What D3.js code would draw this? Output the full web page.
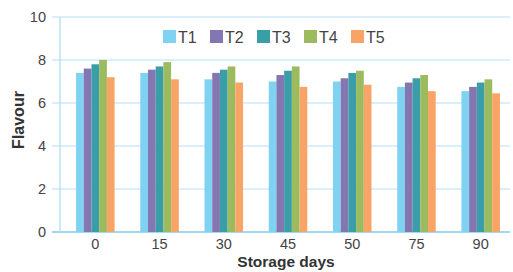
<!DOCTYPE html>
<html>
<head>
<meta charset="utf-8">
<script src="https://cdn.jsdelivr.net/npm/d3@7.9.0/dist/d3.min.js"></script>
<style>
  body { margin: 0; background: #fff; }
  svg { display: block; font-family: 'Liberation Sans', Arial, sans-serif; }
</style>
</head>
<body>
<div id="chart"></div>
<script>
// storage days on the x axis
const days = ['0', '15', '30', '45', '50', '75', '90'];
const series = ['T1', 'T2', 'T3', 'T4', 'T5'];
const colors = ['#7fd2f2', '#8476b0', '#3a9ea8', '#9cba5e', '#f8a466'];

// flavour scores, one array per treatment
const t1 = [7.4, 7.4, 7.1, 7.0, 7.0, 6.75, 6.55];
const t2 = [7.6, 7.55, 7.4, 7.3, 7.15, 6.95, 6.75];
const t3 = [7.8, 7.7, 7.55, 7.5, 7.4, 7.15, 6.95];
const t4 = [8.0, 7.9, 7.7, 7.7, 7.5, 7.3, 7.1];
const t5 = [7.2, 7.1, 6.95, 6.75, 6.85, 6.55, 6.45];
const yTicks = [0, 2, 4, 6, 8, 10];

const values = [t1, t2, t3, t4, t5];
const rows = days.map((d, i) => ({
  day: d,
  vals: series.map((s, j) => ({ key: s, value: values[j][i] })),
}));

const width = 513;
const height = 272;

const svg = d3.select('#chart')
  .append('svg')
  .attr('width', width)
  .attr('height', height);

const x = d3.scaleBand()
  .domain(days)
  .range([60, 516])
  .paddingInner(0.4)
  .paddingOuter(0.25);

const xInner = d3.scaleBand()
  .domain(series)
  .range([0, x.bandwidth()]);

const y = d3.scaleLinear().domain([0, 10]).range([232, 17]);

const color = d3.scaleOrdinal().domain(series).range(colors);

// gridlines
svg.append('g')
  .selectAll('line')
  .data(yTicks)
  .join('line')
  .attr('x1', 52)
  .attr('x2', 510)
  .attr('y1', (d) => y(d))
  .attr('y2', (d) => y(d))
  .attr('stroke', (d) => (d === 0 ? '#7fcdf0' : '#b3e1f6'))
  .attr('stroke-width', (d) => (d === 0 ? 1.6 : 1.2));

// y axis line
svg.append('line')
  .attr('x1', 60).attr('x2', 60)
  .attr('y1', y(10)).attr('y2', y(0))
  .attr('stroke', '#a8dcf5')
  .attr('stroke-width', 1.2);

// y tick labels
svg.append('g')
  .selectAll('text')
  .data(yTicks)
  .join('text')
  .attr('x', 46)
  .attr('y', (d) => y(d))
  .attr('dy', '0.35em')
  .attr('text-anchor', 'end')
  .attr('font-size', 14.5)
  .attr('fill', '#444')
  .text((d) => d);

// bars
svg.append('g')
  .selectAll('g')
  .data(rows)
  .join('g')
  .attr('transform', (d) => `translate(${x(d.day)},0)`)
  .selectAll('rect')
  .data((d) => d.vals)
  .join('rect')
  .attr('x', (d) => xInner(d.key))
  .attr('width', xInner.bandwidth())
  .attr('y', (d) => y(d.value))
  .attr('height', (d) => y(0) - y(d.value))
  .attr('fill', (d) => color(d.key));

// x tick labels
svg.append('g')
  .selectAll('text')
  .data(days)
  .join('text')
  .attr('x', (d) => x(d) + x.bandwidth() / 2)
  .attr('y', 249)
  .attr('text-anchor', 'middle')
  .attr('font-size', 14.5)
  .attr('fill', '#444')
  .text((d) => d);

// axis titles
svg.append('text')
  .attr('transform', 'translate(24,120) rotate(-90)')
  .attr('text-anchor', 'middle')
  .attr('font-size', 16)
  .attr('font-weight', 'bold')
  .attr('fill', '#333')
  .text('Flavour');

svg.append('text')
  .attr('x', 286)
  .attr('y', 267)
  .attr('text-anchor', 'middle')
  .attr('font-size', 15.5)
  .attr('font-weight', 'bold')
  .attr('fill', '#333')
  .text('Storage days');

// legend
const legend = svg.append('g')
  .selectAll('g')
  .data(series)
  .join('g')
  .attr('transform', (d, i) => `translate(${163 + i * 47},30)`);

legend.append('rect')
  .attr('width', 13)
  .attr('height', 13)
  .attr('fill', (d) => color(d));

legend.append('text')
  .attr('x', 15)
  .attr('y', 12.5)
  .attr('font-size', 16)
  .attr('fill', '#444')
  .text((d) => d);
</script>
</body>
</html>
